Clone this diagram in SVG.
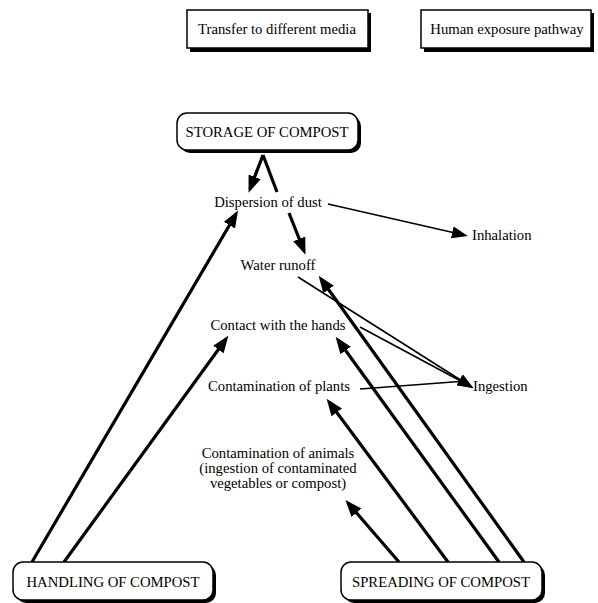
<svg xmlns="http://www.w3.org/2000/svg" width="598" height="603" viewBox="0 0 598 603">
<style>
text{font-family:"Liberation Serif","Times New Roman",serif;font-size:14.7px;fill:#000}
.box{fill:#fff;stroke:#000;stroke-width:1.5}
.sh{fill:#000}
.thick{stroke:#000;stroke-width:3.2;fill:none}
.thin{stroke:#000;stroke-width:1.6;fill:none}
</style>
<defs>
<marker id="ah" markerUnits="userSpaceOnUse" markerWidth="18" markerHeight="14" refX="13" refY="6.5" orient="auto" viewBox="0 0 18 14">
<path d="M0,0 L17,6.5 L0,13 z" fill="#000"/>
</marker>
<marker id="as" markerUnits="userSpaceOnUse" markerWidth="18" markerHeight="14" refX="12" refY="6" orient="auto" viewBox="0 0 18 14">
<path d="M0,0 L16,6 L0,12 z" fill="#000"/>
</marker>
</defs>
<rect width="598" height="603" fill="#fff"/>

<g id="legend-transfer">
<rect class="sh" x="190" y="13" width="181" height="39"/>
<rect class="box" x="187" y="10" width="181" height="38"/>
<text x="277" y="34" text-anchor="middle">Transfer to different media</text>
</g>
<g id="legend-exposure">
<rect class="sh" x="424" y="13" width="170" height="39"/>
<rect class="box" x="421" y="10" width="170" height="38"/>
<text x="507" y="34" text-anchor="middle">Human exposure pathway</text>
</g>

<g id="connectors">
<line class="thick" x1="263" y1="155" x2="250" y2="189" marker-end="url(#ah)"/>
<line class="thick" x1="263" y1="155" x2="277" y2="192"/>
<line class="thick" x1="289" y1="213" x2="304" y2="251" marker-end="url(#ah)"/>
<line class="thin" x1="328" y1="204" x2="464" y2="235" marker-end="url(#as)"/>
<line class="thick" x1="32" y1="562" x2="236" y2="214" marker-end="url(#ah)"/>
<line class="thick" x1="64" y1="562" x2="226" y2="339" marker-end="url(#ah)"/>
<line class="thick" x1="399" y1="562" x2="348" y2="503" marker-end="url(#ah)"/>
<line class="thick" x1="448" y1="562" x2="329" y2="402" marker-end="url(#ah)"/>
<line class="thick" x1="499" y1="562" x2="338" y2="340" marker-end="url(#ah)"/>
<line class="thick" x1="524" y1="562" x2="321" y2="279" marker-end="url(#ah)"/>
<line class="thin" x1="298" y1="277" x2="470" y2="386" marker-end="url(#as)"/>
<line class="thin" x1="360" y1="327" x2="470" y2="386" marker-end="url(#as)"/>
<line class="thin" x1="360" y1="389" x2="466" y2="381"/>
</g>

<g id="storage">
<rect class="sh" x="180" y="116" width="181" height="37" rx="10"/>
<rect class="box" x="177" y="113" width="181" height="37" rx="10"/>
<text x="267" y="137" text-anchor="middle">STORAGE OF COMPOST</text>
</g>
<g id="handling">
<rect class="sh" x="16" y="565" width="200" height="38" rx="10"/>
<rect class="box" x="13" y="562" width="200" height="38" rx="10"/>
<text x="113" y="587" text-anchor="middle">HANDLING OF COMPOST</text>
</g>
<g id="spreading">
<rect class="sh" x="344" y="565" width="201" height="38" rx="10"/>
<rect class="box" x="341" y="562" width="201" height="38" rx="10"/>
<text x="441" y="587" text-anchor="middle">SPREADING OF COMPOST</text>
</g>

<g id="dispersion"><text x="268" y="207" text-anchor="middle">Dispersion of dust</text></g>
<g id="inhalation"><text x="472" y="240">Inhalation</text></g>
<g id="runoff"><text x="278" y="270" text-anchor="middle">Water runoff</text></g>
<g id="hands"><text x="278" y="330" text-anchor="middle">Contact with the hands</text></g>
<g id="plants"><text x="279" y="391" text-anchor="middle">Contamination of plants</text></g>
<g id="ingestion"><text x="473" y="391">Ingestion</text></g>
<g id="animals">
<text x="278" y="458" text-anchor="middle">Contamination of animals</text>
<text x="278" y="473" text-anchor="middle">(ingestion of contaminated</text>
<text x="278" y="488" text-anchor="middle">vegetables or compost)</text>
</g>
</svg>
